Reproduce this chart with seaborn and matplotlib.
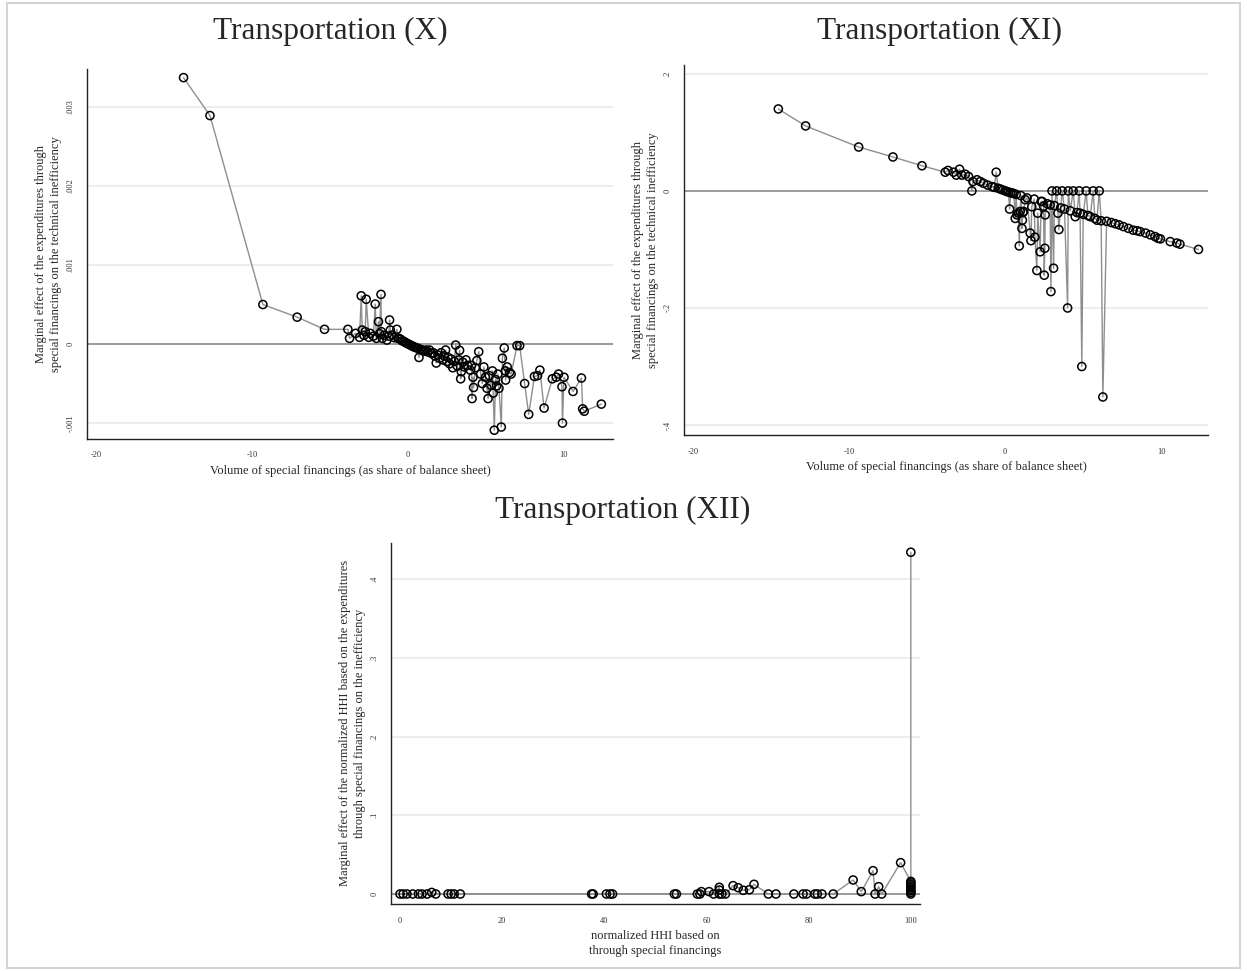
"""Transportation (X)-(XII): marginal effects of special financings, Stata-like panels."""

import matplotlib.pyplot as plt
import seaborn as sns
from matplotlib.patches import Rectangle

# Panel X: volume of special financings vs marginal effect (technical inefficiency)
X_SHARE = [
    -14.4, -12.7, -9.3, -7.1, -5.34, -3.84, -3.73, -3.34, -3.09, -2.98, -2.92, -2.80,
    -2.72, -2.66, -2.49, -2.40, -2.20, -2.08, -2.01, -1.87, -1.80, -1.71, -1.69, -1.63,
    -1.50, -1.33, -1.20, -1.16, -1.11, -0.99, -0.85, -0.69, -0.62, -0.56, -0.45, -0.35,
    -0.25, -0.15, -0.05, 0.05, 0.15, 0.25, 0.35, 0.45, 0.55, 0.65, 0.73, 0.80, 0.90,
    1.00, 1.10, 1.20, 1.30, 1.41, 1.55, 1.65, 1.75, 1.84, 1.95, 2.05, 2.15, 2.25, 2.35,
    2.44, 2.52, 2.60, 2.70, 2.80, 2.90, 3.00, 3.09, 3.20, 3.30, 3.34, 3.41, 3.45, 3.55,
    3.65, 3.75, 3.85, 4.03, 4.10, 4.14, 4.20, 4.24, 4.35, 4.45, 4.57, 4.70, 4.80, 4.90,
    5.00, 5.10, 5.17, 5.25, 5.35, 5.45, 5.50, 5.57, 5.65, 5.72, 5.80, 5.87, 6.02, 6.09,
    6.21, 6.28, 6.30, 6.40, 6.55, 6.65, 7.03, 7.20, 7.52, 7.78, 8.15, 8.35, 8.50, 8.77,
    9.30, 9.55, 9.70, 9.92, 9.95, 10.05, 10.63, 11.17, 11.25, 11.35, 12.45,
]
X_EFFECT = [
    .00337, .00289, .00050, .00034, .000186, .000186, .000072, .000135, .000085, .00061,
    .000177, .000110, .000156, .000566, .000085, .000135, .000100, .000506, .000072,
    .000283, .000130, .000628, .000156, .000072, .000110, .000050, .000100, .000304,
    .000177, .000114, .000080, .000186, .000072, .000072, .000060, .000040, .000035,
    .000020, .000010, .000000, -.000010, -.000020, -.000030, -.000040, -.000045,
    -.000055, -.000170, -.000065, -.000075, -.000080, -.000090, -.000076, -.000100,
    -.000076, -.000120, -.000110, -.000150, -.000240, -.000140, -.000180, -.000110,
    -.000200, -.000150, -.000076, -.000220, -.000170, -.000250, -.000190, -.000300,
    -.000220, -.000013, -.000280, -.000200, -.000080, -.000440, -.000350, -.000230,
    -.000290, -.000200, -.000270, -.000330, -.000270, -.000690, -.000420, -.000550,
    -.000300, -.000210, -.000097, -.000380, -.000500, -.000290, -.000420, -.000560,
    -.000690, -.000400, -.000520, -.000340, -.000620, -.001090, -.000450, -.000530,
    -.000380, -.000560, -.001050, -.000180, -.000050, -.000340, -.000456, -.000290,
    -.000360, -.000380, -.000020, -.000020, -.000500, -.000890, -.000410, -.000400,
    -.000330, -.000810, -.000440, -.000420, -.000380, -.000540, -.001000, -.000420,
    -.000600, -.000430, -.000820, -.000850, -.000760,
]

# Panel XI
XI_SHARE = [
    -14.55, -12.8, -9.4, -7.2, -5.34, -3.85, -3.67, -3.31, -3.14, -2.93, -2.78, -2.56,
    -2.35, -2.14, -2.07, -1.81, -1.60, -1.39, -1.13, -0.85, -0.70, -0.58, -0.45, -0.30,
    -0.15, 0.00, 0.10, 0.20, 0.28, 0.35, 0.45, 0.55, 0.64, 0.70, 0.75, 0.85, 0.90, 0.96,
    1.00, 1.07, 1.10, 1.13, 1.18, 1.28, 1.40, 1.60, 1.65, 1.70, 1.86, 1.90, 2.03, 2.08,
    2.24, 2.30, 2.37, 2.46, 2.50, 2.54, 2.56, 2.70, 2.88, 2.93, 3.00, 3.10, 3.15, 3.30,
    3.38, 3.44, 3.55, 3.65, 3.80, 4.00, 4.04, 4.17, 4.36, 4.49, 4.60, 4.74, 4.80, 4.91,
    5.00, 5.19, 5.30, 5.45, 5.64, 5.75, 5.88, 6.03, 6.15, 6.26, 6.50, 6.80, 7.05, 7.30,
    7.58, 7.90, 8.20, 8.45, 8.65, 9.00, 9.30, 9.60, 9.80, 9.95, 10.58, 11.00, 11.20, 12.39,
]
XI_EFFECT = [
    .140, .111, .075, .058, .043, .032, .035, .032, .027, .037, .027, .0285,
    .0245, .000, .016, .019, .016, .013, .010, .0074, .006, .032, .0045, .003,
    .0015, .000, -.001, -.0018, -.031, -.003, -.0038, -.0045, -.047, -.006, -.041, -.038, -.094, -.035,
    -.008, -.064, -.050, -.037, -.035, -.015, -.012, -.072, -.085, -.027, -.014, -.079, -.136, -.038,
    -.104, -.018, -.018, -.026, -.144, -.098, -.041, -.022, -.024, -.172, .000, -.132, -.025, .000,
    -.038, -.066, -.029, .000, -.031, -.200, .000, -.034, .000, -.044, -.037, .000, -.038, -.300,
    -.040, .000, -.042, -.044, .000, -.047, -.050, .000, -.051, -.352, -.052, -.054, -.056, -.058,
    -.061, -.064, -.067, -.068, -.0695, -.072, -.075, -.078, -.081, -.082, -.0866, -.089, -.091, -.100,
]

# Panel XII: normalized HHI
XII_HHI = [
    0.0, 0.6, 1.35, 2.5, 3.6, 4.3, 5.3, 6.2, 7.0, 9.4, 10.0, 10.6, 11.8, 37.5, 37.8,
    40.4, 41.1, 41.6, 53.7, 54.1, 58.2, 58.7, 59.0, 60.5, 61.4, 62.5, 62.5, 62.5, 63.0,
    63.7, 65.2, 66.2, 67.2, 68.4, 69.3, 72.1, 73.6, 77.1, 78.9, 79.6, 81.2, 81.7, 82.6,
    84.8, 88.7, 90.3, 92.6, 93.0, 93.7, 94.3, 98.0,
    100, 100, 100, 100, 100, 100, 100, 100, 100, 100,
]
XII_EFFECT = [
    0, 0, 0, 0, 0, 0, 0, .002, 0, 0, 0, 0, 0, 0, 0,
    0, 0, 0, 0, 0, 0, 0, .003, .003, 0, .0085, .005, 0, 0,
    0, .0106, .008, .0047, .0055, .0123, 0, 0, 0, 0, 0, 0, 0, 0,
    0, .0178, .003, .0296, 0, .0093, 0, .0398,
    .016, .014, .012, .010, .008, .006, .004, .002, 0, .434,
]

X_TICKS = [-20, -10, 0, 10]
X_TICK_LABELS = ["-20", "-10", "0", "10"]
X_Y_TICKS = [-.001, 0, .001, .002, .003]
X_Y_TICK_LABELS = ["-.001", "0", ".001", ".002", ".003"]
XI_Y_TICKS = [-.4, -.2, 0, .2]
XI_Y_TICK_LABELS = ["-.4", "-.2", "0", ".2"]
XII_X_TICKS = [0, 20, 40, 60, 80, 100]
XII_X_TICK_LABELS = ["0", "20", "40", "60", "80", "100"]
XII_Y_TICKS = [0, .1, .2, .3, .4]
XII_Y_TICK_LABELS = ["0", ".1", ".2", ".3", ".4"]

LINE_GREY = "#8e8e8e"
GRID_GREY = "#e8e8e8"


def draw_panel(ax, x, y, xlim, ylim, xticks, xlabels, yticks, ylabels, xlabel, ylabel):
    ax.yaxis.grid(True, color=GRID_GREY, lw=1.1, zorder=0)
    ax.xaxis.grid(False)
    ax.axhline(0, color="#9a9a9a", lw=1.4, zorder=1)
    sns.lineplot(x=x, y=y, sort=False, estimator=None, color=LINE_GREY, lw=1.0,
                 ax=ax, zorder=2)
    sns.scatterplot(x=x, y=y, marker="o", s=34, facecolors="none", edgecolor="black",
                    linewidth=1.1, ax=ax, zorder=3)
    ax.set_xlim(*xlim)
    ax.set_ylim(*ylim)
    ax.set_xticks(xticks, xlabels, fontsize=6)
    ax.set_yticks(yticks, ylabels, fontsize=6, rotation=90, va="center")
    ax.tick_params(axis="both", direction="out", length=4, width=0.9, color="black",
                   labelcolor="#333333", pad=5)
    for side in ("top", "right"):
        ax.spines[side].set_visible(False)
    for side in ("left", "bottom"):
        ax.spines[side].set_color("#222222")
        ax.spines[side].set_linewidth(1.0)
    ax.set_xlabel(xlabel, fontsize=9, labelpad=4, linespacing=1.3)
    ax.set_ylabel(ylabel, fontsize=9, labelpad=3, linespacing=1.35)


def main() -> None:
    sns.set_style("white")
    plt.rcParams["font.family"] = ["Liberation Serif", "DejaVu Serif"]

    fig = plt.figure(figsize=(12.47, 9.71), dpi=100)
    ax_x = fig.add_axes([0.0698, 0.548, 0.4218, 0.381])
    ax_xi = fig.add_axes([0.5485, 0.552, 0.4202, 0.381])
    ax_xii = fig.add_axes([0.3136, 0.069, 0.4242, 0.372])

    ylab = ("Marginal effect of the expenditures through\n"
            "special financings on the technical inefficiency")
    xlab = "Volume of special financings (as share of balance sheet)"

    draw_panel(ax_x, X_SHARE, X_EFFECT, (-20.6, 13.2), (-0.0012, 0.00348),
               X_TICKS, X_TICK_LABELS, X_Y_TICKS, X_Y_TICK_LABELS, xlab, ylab)
    draw_panel(ax_xi, XI_SHARE, XI_EFFECT, (-20.6, 13.0), (-0.417, 0.215),
               X_TICKS, X_TICK_LABELS, XI_Y_TICKS, XI_Y_TICK_LABELS, xlab, ylab)
    draw_panel(ax_xii, XII_HHI, XII_EFFECT, (-1.76, 101.8), (-0.0127, 0.446),
               XII_X_TICKS, XII_X_TICK_LABELS, XII_Y_TICKS, XII_Y_TICK_LABELS,
               "normalized HHI based on\nthrough special financings",
               "Marginal effect of the normalized HHI based on the expenditures\n"
               "through special financings on the inefficiency")

    fig.text(0.2646, 0.968, "Transportation (X)", fontsize=22.5, ha="center", va="center")
    fig.text(0.7538, 0.968, "Transportation (XI)", fontsize=22.5, ha="center", va="center")
    fig.text(0.4996, 0.474, "Transportation (XII)", fontsize=22.5, ha="center", va="center")

    fig.patches.append(Rectangle((0.006, 0.003), 0.988, 0.994, transform=fig.transFigure,
                                 fill=False, edgecolor="#d4d4d4", lw=1.5))

    fig.savefig("out.png", dpi=100)
    plt.close(fig)


if __name__ == "__main__":
    main()
